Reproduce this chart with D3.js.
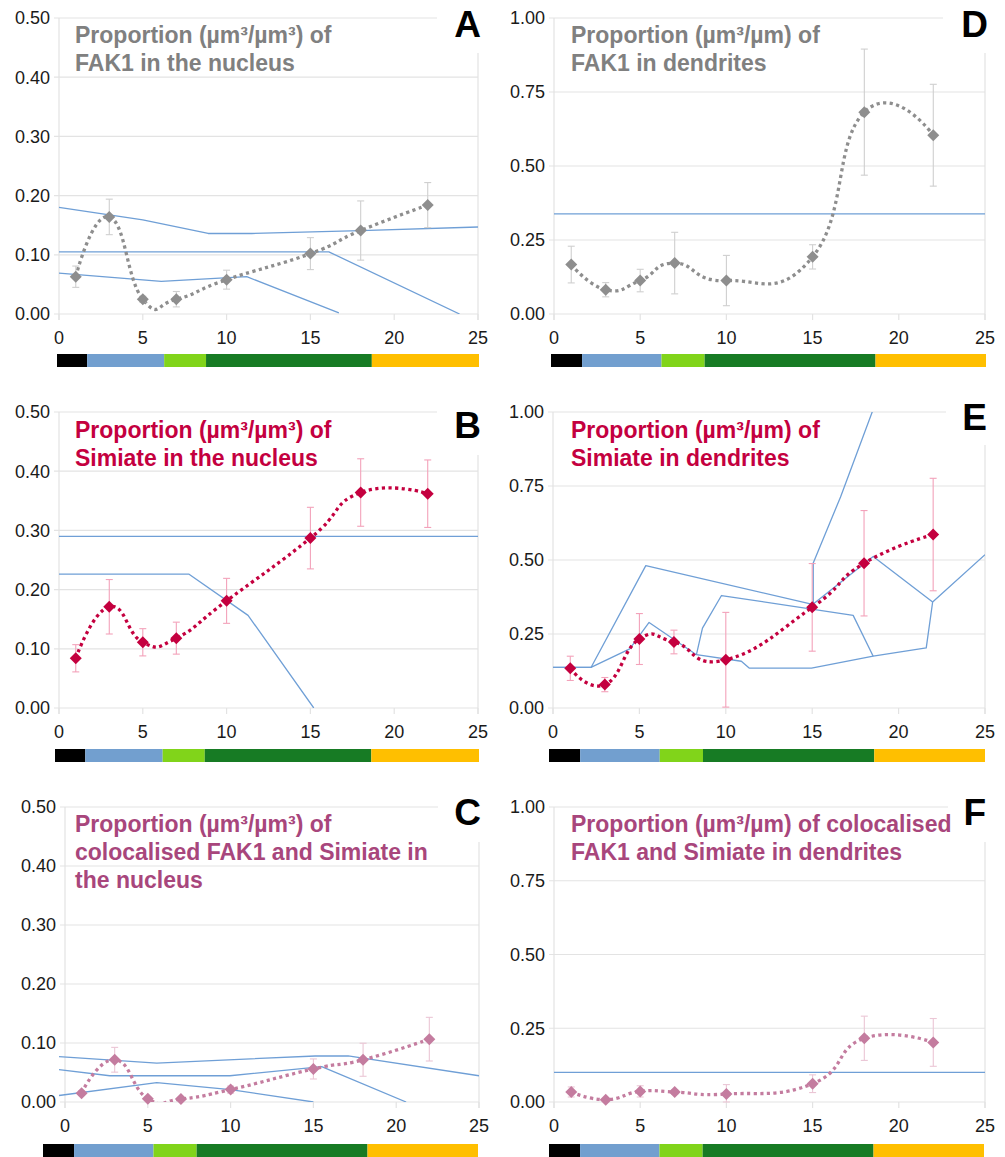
<!DOCTYPE html>
<html><head><meta charset="utf-8">
<script src="https://cdn.jsdelivr.net/npm/d3@7"></script>
<style>
html,body{margin:0;padding:0;background:#fff;}
svg{display:block;font-family:"Liberation Sans",Arial,sans-serif;}
</style></head>
<body>
<svg id="chart" width="1005" height="1157"></svg>
<script>
// ---------- DATA ----------
const days = [1, 3, 5, 7, 10, 15, 18, 22];
const xTicks = [0, 5, 10, 15, 20, 25];
const yTicksNucleus = [0, 0.1, 0.2, 0.3, 0.4, 0.5];
const yTicksDendrite = [0, 0.25, 0.5, 0.75, 1.0];

const fakNucleus    = [0.063, 0.164, 0.025, 0.025, 0.058, 0.102, 0.141, 0.184];
const fakNucleusErr = [0.018, 0.030, 0.005, 0.013, 0.016, 0.027, 0.050, 0.038];
const simNucleus    = [0.084, 0.171, 0.111, 0.118, 0.181, 0.287, 0.364, 0.362];
const simNucleusErr = [0.023, 0.046, 0.023, 0.027, 0.038, 0.052, 0.057, 0.057];
const coNucleus     = [0.015, 0.0716, 0.0056, 0.005, 0.021, 0.056, 0.0716, 0.1065];
const coNucleusErr  = [0.004, 0.021, 0.003, 0.003, 0.006, 0.017, 0.028, 0.037];

const fakDendrite    = [0.167, 0.082, 0.113, 0.172, 0.113, 0.193, 0.682, 0.604];
const fakDendriteErr = [0.062, 0.024, 0.038, 0.104, 0.085, 0.041, 0.213, 0.172];
const simDendrite    = [0.134, 0.079, 0.233, 0.223, 0.163, 0.340, 0.489, 0.586];
const simDendriteErr = [0.041, 0.024, 0.086, 0.040, 0.160, 0.148, 0.178, 0.190];
const coDendrite     = [0.034, 0.008, 0.036, 0.034, 0.027, 0.062, 0.216, 0.202];
const coDendriteErr  = [0.017, 0.004, 0.019, 0.008, 0.032, 0.030, 0.075, 0.081];

// stray blue polylines (x, value)
const blueA = [
  [[0,0.180],[5,0.159],[8.9,0.136],[11.5,0.136],[18,0.141],[25,0.147]],
  [[0,0.105],[16.1,0.105],[23.9,0.0]],
  [[0,0.069],[6.1,0.055],[11.2,0.063],[16.7,0.002]]
];
const blueB = [
  [[0,0.290],[25,0.290]],
  [[0,0.226],[7.76,0.226],[11.28,0.1565],[15.2,0.0]]
];
const blueC = [
  [[-0.36,0.077],[5.54,0.066],[15.1,0.078],[17.1,0.078],[25,0.0445]],
  [[-0.36,0.0547],[2.7,0.0445],[9.96,0.0445],[15.5,0.060],[20.6,0.0]],
  [[-0.36,0.011],[5.54,0.033],[10,0.021],[15,0.0]]
];
const blueD = [
  [[0,0.338],[25,0.338]]
];
const blueE = [
  [[0,0.137],[2.2,0.137],[5.37,0.481],[14.96,0.351],[15.06,0.351],[15.06,0.49],[16.64,0.713],[18.6,1.02]],
  [[0,0.137],[2.2,0.137],[4.44,0.20],[5.56,0.289],[8.3,0.18],[10.9,0.158],[11.35,0.135],[14.96,0.135],[18.53,0.175],[21.6,0.203],[21.97,0.358],[25,0.518]],
  [[8.3,0.18],[8.65,0.27],[9.75,0.38],[17.37,0.313],[18.53,0.175]],
  [[15.06,0.351],[18.53,0.512],[21.97,0.358]]
];
const blueF = [
  [[0,0.1006],[25,0.1006]]
];

// developmental stage bar
const stageBreaks = [0, 1.8, 6.4, 8.9, 18.8, 25.2];
const stageColors = ["#000000", "#729fcf", "#81d41a", "#177b24", "#ffbf00"];

const titleA = ["Proportion (µm³/µm³) of", "FAK1 in the nucleus"];
const titleB = ["Proportion (µm³/µm³) of", "Simiate in the nucleus"];
const titleC = ["Proportion (µm³/µm³) of", "colocalised FAK1 and Simiate in", "the nucleus"];
const titleD = ["Proportion (µm³/µm) of", "FAK1 in dendrites"];
const titleE = ["Proportion (µm³/µm) of", "Simiate in dendrites"];
const titleF = ["Proportion (µm³/µm) of colocalised", "FAK1 and Simiate in dendrites"];
const letters = ["A", "B", "C", "D", "E", "F"];

// ---------- STYLE / LAYOUT ----------
const grey = {title:"#808080", mark:"#8e8e8e", err:"#cfcfcf"};
const red  = {title:"#c4003f", mark:"#c4003f", err:"#f3a2ba"};
const pink = {title:"#a8467c", mark:"#c47c9f", err:"#ebc6d5"};

const panels = [
  {letter:letters[0], title:titleA, sty:grey, vals:fakNucleus, errs:fakNucleusErr, blue:blueA, yMax:0.5, yTicks:yTicksNucleus,
   x0:59, x1:478, yT:18, yB:314, bar:[57,479,354], tx:75, ty:43, lx:481, ly:37, box:[437,53]},
  {letter:letters[1], title:titleB, sty:red, vals:simNucleus, errs:simNucleusErr, blue:blueB, yMax:0.5, yTicks:yTicksNucleus,
   x0:59, x1:478, yT:412, yB:708, bar:[55,479,749], tx:75, ty:438, lx:481, ly:438, box:[437,455]},
  {letter:letters[2], title:titleC, sty:pink, vals:coNucleus, errs:coNucleusErr, blue:blueC, yMax:0.5, yTicks:yTicksNucleus,
   x0:65, x1:479, yT:807, yB:1102, bar:[43,478,1144], tx:75, ty:832, lx:481, ly:825, box:[438,842]},
  {letter:letters[3], title:titleD, sty:grey, vals:fakDendrite, errs:fakDendriteErr, blue:blueD, yMax:1.0, yTicks:yTicksDendrite,
   x0:554, x1:985, yT:18, yB:314, bar:[551,986,354], tx:571, ty:43, lx:988, ly:37, box:[943,53]},
  {letter:letters[4], title:titleE, sty:red, vals:simDendrite, errs:simDendriteErr, blue:blueE, yMax:1.0, yTicks:yTicksDendrite,
   x0:553, x1:985, yT:412, yB:708, bar:[549,985,749], tx:571, ty:438, lx:987, ly:430, box:[946,445]},
  {letter:letters[5], title:titleF, sty:pink, vals:coDendrite, errs:coDendriteErr, blue:blueF, yMax:1.0, yTicks:yTicksDendrite,
   x0:554, x1:985, yT:807, yB:1102, bar:[549,984,1144], tx:571, ty:832, lx:986, ly:825, box:[948,842]}
];

const svg = d3.select("#chart");
const fmt = d3.format(".2f");
const gridColor = "#e3e3e3";
const blueColor = "#6f9fd6";

panels.forEach((p, i) => {
  const g = svg.append("g");
  const x = d3.scaleLinear().domain([0, 25]).range([p.x0, p.x1]);
  const y = d3.scaleLinear().domain([0, p.yMax]).range([p.yB, p.yT]);

  // horizontal gridlines + y tick marks
  g.selectAll("line.hg").data(p.yTicks).join("line")
    .attr("x1", p.x0 - 5).attr("x2", p.x1)
    .attr("y1", d => y(d)).attr("y2", d => y(d))
    .attr("stroke", gridColor).attr("stroke-width", 1.2);
  // left axis and right border
  g.append("line").attr("x1", x(0)).attr("x2", x(0)).attr("y1", p.yT).attr("y2", p.yB + 6)
    .attr("stroke", gridColor).attr("stroke-width", 1.2);
  g.append("line").attr("x1", x(25)).attr("x2", x(25)).attr("y1", p.yT).attr("y2", p.yB + 6)
    .attr("stroke", gridColor).attr("stroke-width", 1.2);
  // x tick marks
  g.selectAll("line.xt").data(xTicks).join("line")
    .attr("x1", d => x(d)).attr("x2", d => x(d))
    .attr("y1", p.yB).attr("y2", p.yB + 6)
    .attr("stroke", gridColor).attr("stroke-width", 1.2);

  // white box behind the panel letter
  g.append("rect").attr("x", p.box[0]).attr("y", p.yT - 4)
    .attr("width", p.x1 + 6 - p.box[0]).attr("height", p.box[1] - p.yT + 4)
    .attr("fill", "#fff");

  // y tick labels
  g.selectAll("text.yl").data(p.yTicks).join("text")
    .attr("x", p.x0 - 9).attr("y", d => y(d)).attr("dy", "0.36em")
    .attr("text-anchor", "end").attr("font-size", 18).attr("fill", "#1a1a1a")
    .text(d => fmt(d));
  // x tick labels
  g.selectAll("text.xl").data(xTicks).join("text")
    .attr("x", d => x(d)).attr("y", p.yB + 30)
    .attr("text-anchor", "middle").attr("font-size", 18).attr("fill", "#1a1a1a")
    .text(d => d);

  // clip region
  const cid = "clip" + i;
  svg.append("defs").append("clipPath").attr("id", cid)
    .append("rect").attr("x", p.x0 - 10).attr("y", p.yT).attr("width", p.x1 - p.x0 + 10).attr("height", p.yB - p.yT);
  const plot = g.append("g").attr("clip-path", `url(#${cid})`);

  // blue polylines
  const bl = d3.line().x(d => x(d[0])).y(d => y(d[1]));
  plot.selectAll("path.blue").data(p.blue).join("path")
    .attr("d", bl).attr("fill", "none").attr("stroke", blueColor).attr("stroke-width", 1.3)
    .attr("stroke-linejoin", "round");

  const pts = days.map((d, k) => ({x: d, v: p.vals[k], e: p.errs[k]}));

  // error bars
  const eb = g.append("g").attr("stroke", p.sty.err).attr("stroke-width", 1.1);
  pts.forEach(d => {
    const lo = y(Math.max(0, d.v - d.e)), hi = y(d.v + d.e), cx = x(d.x);
    eb.append("line").attr("x1", cx).attr("x2", cx).attr("y1", lo).attr("y2", hi);
    eb.append("line").attr("x1", cx - 3.5).attr("x2", cx + 3.5).attr("y1", lo).attr("y2", lo);
    eb.append("line").attr("x1", cx - 3.5).attr("x2", cx + 3.5).attr("y1", hi).attr("y2", hi);
  });

  // smoothed dotted line
  const sl = d3.line().x(d => x(d.x)).y(d => y(d.v)).curve(d3.curveCardinal.tension(-0.5));
  plot.append("path").datum(pts).attr("d", sl)
    .attr("fill", "none").attr("stroke", p.sty.mark).attr("stroke-width", 3.3)
    .attr("stroke-dasharray", "3.2 3.4");

  // diamond markers
  g.selectAll("path.mk").data(pts).join("path")
    .attr("d", "M0,-6L6,0L0,6L-6,0Z")
    .attr("transform", d => `translate(${x(d.x)},${y(d.v)})`)
    .attr("fill", p.sty.mark);

  // title
  const t = g.append("text").attr("x", p.tx).attr("y", p.ty)
    .attr("font-size", 23).attr("font-weight", "bold").attr("fill", p.sty.title);
  p.title.forEach((line, k) => {
    t.append("tspan").attr("x", p.tx).attr("y", p.ty + k * 28).text(line);
  });

  // letter
  g.append("text").attr("x", p.lx).attr("y", p.ly).attr("text-anchor", "end")
    .attr("font-size", 37).attr("font-weight", "bold").attr("fill", "#000").text(p.letter);

  // stage bar
  const bx = d3.scaleLinear().domain([0, stageBreaks[stageBreaks.length - 1]]).range([p.bar[0], p.bar[1]]);
  g.selectAll("rect.stage").data(stageColors).join("rect")
    .attr("x", (c, k) => bx(stageBreaks[k]))
    .attr("width", (c, k) => bx(stageBreaks[k + 1]) - bx(stageBreaks[k]))
    .attr("y", p.bar[2]).attr("height", 13)
    .attr("fill", c => c);
});
</script>
</body></html>
